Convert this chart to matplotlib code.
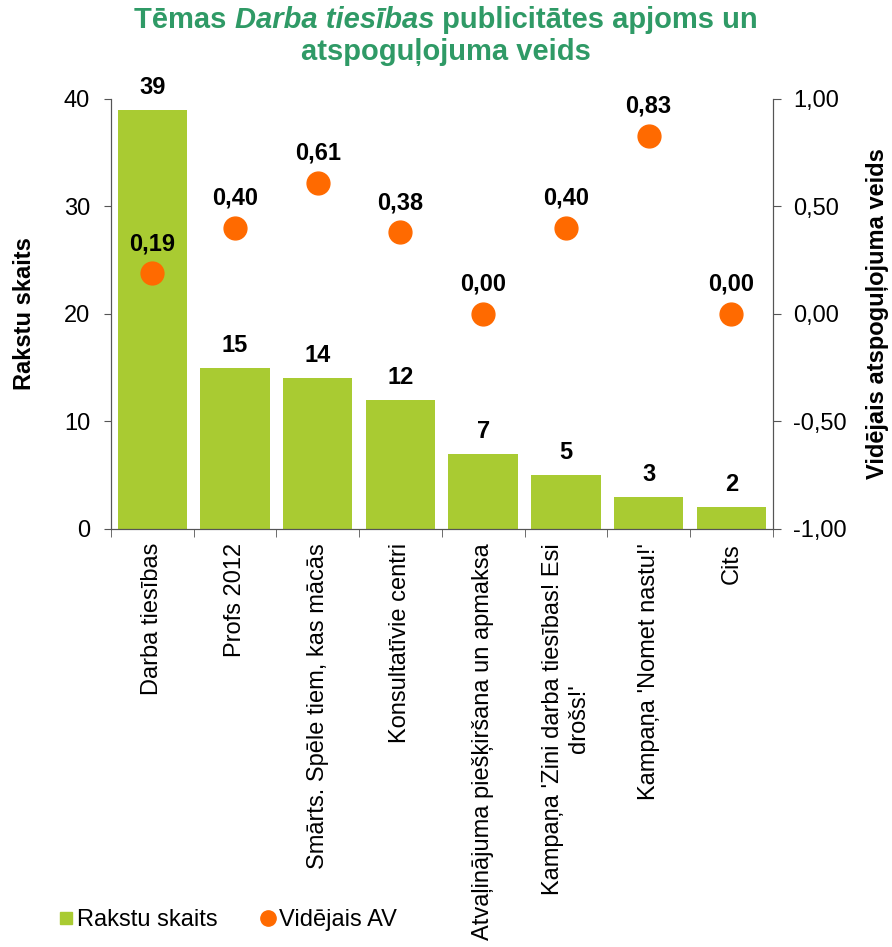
import matplotlib
matplotlib.use("Agg")
import matplotlib.pyplot as plt
from matplotlib.lines import Line2D
from matplotlib.ticker import FuncFormatter
import numpy as np

plt.rcParams['font.family'] = ['Liberation Sans', 'DejaVu Sans']

# data
categories = ["Darba tiesības", "Profs 2012", "Smārts. Spēle tiem, kas mācās",
              "Konsultatīvie centri", "Atvaļinājuma piešķiršana un apmaksa",
              "Kampaņa 'Zini darba tiesības! Esi\ndrošs!'",
              "Kampaņa 'Nomet nastu!'", "Cits"]
article_counts = [39, 15, 14, 12, 7, 5, 3, 2]
average_av = [0.19, 0.40, 0.61, 0.38, 0.00, 0.40, 0.83, 0.00]

green = '#A9CB32'
orange = '#FF6A00'
title_green = '#2F9A66'
axis_grey = '#555555'

fig = plt.figure(figsize=(8.92, 9.47), dpi=100)
ax = fig.add_axes([0.1244, 0.4414, 0.7418, 0.4541])
ax2 = ax.twinx()

x = np.arange(len(categories))
ax.bar(x, article_counts, width=0.84, color=green, zorder=2)
for xi, v in zip(x, article_counts):
    ax.annotate(str(v), (xi, v), xytext=(0, 8), textcoords='offset points',
                ha='center', va='bottom', fontsize=17, fontweight='bold')

ax2.scatter(x, average_av, s=270, color=orange, zorder=3, clip_on=False)
for xi, v in zip(x, average_av):
    ax2.annotate(f"{v:.2f}".replace('.', ','), (xi, v), xytext=(0, 13),
                 textcoords='offset points', ha='center', va='bottom',
                 fontsize=17, fontweight='bold')

ax.set_xlim(-0.5, len(categories) - 0.5)
ax.set_ylim(0, 40)
ax.set_yticks([0, 10, 20, 30, 40])
ax2.set_ylim(-1, 1)
ax2.set_yticks([-1, -0.5, 0, 0.5, 1])
ax2.yaxis.set_major_formatter(FuncFormatter(lambda v, p: f"{v:.2f}".replace('.', ',')))

# category labels, tick marks between categories
ax.set_xticks(x)
ax.set_xticklabels(categories, rotation=90, fontsize=17, multialignment='center')
ax.tick_params(axis='x', which='major', length=0, pad=10)
ax.set_xticks(np.arange(-0.5, len(categories)), minor=True)
ax.tick_params(axis='x', which='minor', length=6, direction='out', color=axis_grey)

ax.tick_params(axis='y', labelsize=17, length=5, pad=10, color=axis_grey)
ax2.tick_params(axis='y', labelsize=17, length=6, pad=9, color=axis_grey)

for a in (ax, ax2):
    a.spines['top'].set_visible(False)
    for s in ('left', 'right', 'bottom'):
        a.spines[s].set_color(axis_grey)

ax.set_ylabel("Rakstu skaits", fontsize=17, fontweight='bold')
ax.yaxis.set_label_coords(-0.1133, 0.5)
ax2.set_ylabel("Vidējais atspoguļojuma veids", fontsize=17, fontweight='bold', rotation=90)
ax2.yaxis.set_label_coords(1.141, 0.5)

# title: plain bold with one italic phrase, built from pieces and centred
line1 = [("Tēmas ", 'normal'), ("Darba tiesības", 'italic'), (" publicitātes apjoms un", 'normal')]
title_kw = dict(fontsize=21, fontweight='bold', color=title_green, va='baseline')
pieces = [fig.text(0, 0.9704, t, style=st, **title_kw) for t, st in line1]
fig.text(0.5, 0.9366, "atspoguļojuma veids", ha='center', **title_kw)
fig.canvas.draw()
r = fig.canvas.get_renderer()
widths = [p.get_window_extent(r).width / fig.bbox.width for p in pieces]
xpos = 0.5 - sum(widths) / 2
for p, w in zip(pieces, widths):
    p.set_x(xpos)
    xpos += w

handles = [Line2D([], [], marker='s', linestyle='', color=green, markersize=9),
           Line2D([], [], marker='o', linestyle='', color=orange, markersize=11)]
fig.legend(handles, ["Rakstu skaits", "Vidējais AV"], loc='center left',
           bbox_to_anchor=(0.0656, 0.0285), ncol=2, frameon=False, fontsize=17,
           borderpad=0, borderaxespad=0, handlelength=0.6, handletextpad=0.2,
           columnspacing=1.8)

fig.savefig("out.png", dpi=100)
